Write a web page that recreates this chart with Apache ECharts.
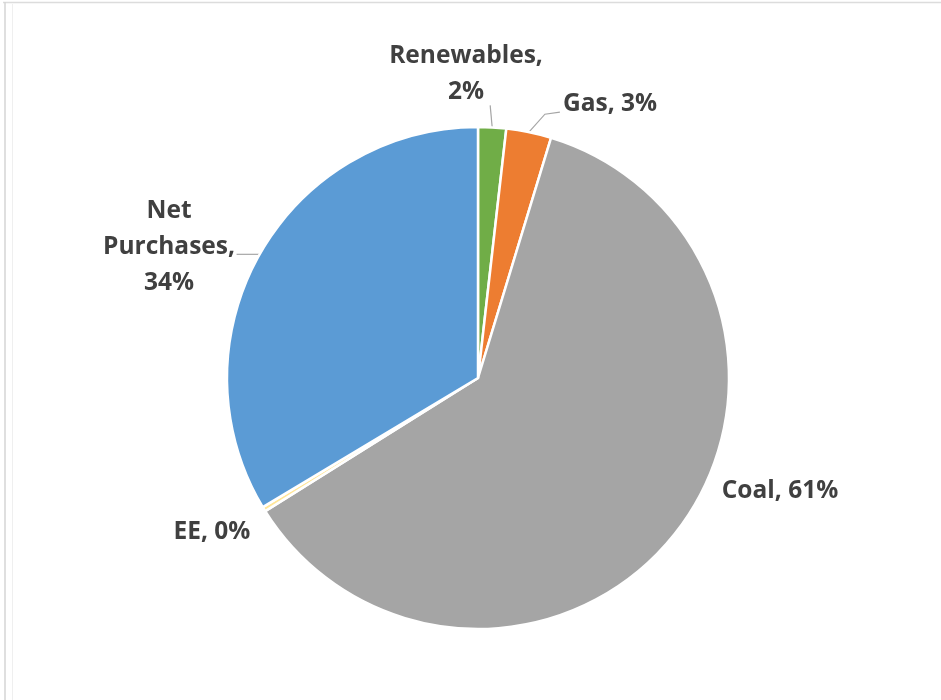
<!DOCTYPE html>
<html>
<head>
<meta charset="utf-8">
<script src="https://cdn.jsdelivr.net/npm/echarts@6/dist/echarts.min.js"></script>
<style>
  html, body { margin: 0; padding: 0; background: #ffffff; }
  #chart { width: 941px; height: 700px; }
</style>
</head>
<body>
<div id="chart"></div>
<script>
// Energy supply mix, clockwise from 12 o'clock
const categories = ['Renewables', 'Gas', 'Coal', 'EE', 'Net Purchases'];
const shares = [1.8, 2.9, 61.4, 0.3, 33.6];
const sliceColors = ['#70AD47', '#ED7D31', '#A5A5A5', '#FFE699', '#5B9BD5'];

// Where each data label sits (centre of text block) and how its leader line bends
const labelPlacement = {
  'Renewables':    { x: 466, y: 74,  line: 'up' },
  'Gas':           { x: 610, y: 104, line: 'elbow' },
  'Coal':          { x: 780, y: 491, line: 'none' },
  'EE':            { x: 212, y: 532, line: 'none' },
  'Net Purchases': { x: 169, y: 247, line: 'flat' }
};

const chart = echarts.init(document.getElementById('chart'), null, { renderer: 'canvas' });

const textColor = '#404040';

chart.setOption({
  backgroundColor: '#ffffff',
  animation: false,
  graphic: [
    { type: 'line', shape: { x1: 3, y1: 2.5, x2: 941, y2: 2.5 }, style: { stroke: '#dcdcdc', lineWidth: 1.5 } },
    { type: 'line', shape: { x1: 5, y1: 2, x2: 5, y2: 700 }, style: { stroke: '#d4d4d4', lineWidth: 1.5 } },
    { type: 'line', shape: { x1: 12.5, y1: 4, x2: 12.5, y2: 700 }, style: { stroke: '#efefef', lineWidth: 1 } }
  ],
  series: [{
    type: 'pie',
    center: [478, 378],
    radius: 251,
    startAngle: 90,
    clockwise: true,
    avoidLabelOverlap: false,
    itemStyle: { borderColor: '#ffffff', borderWidth: 2.5 },
    label: {
      show: true,
      position: 'outside',
      color: textColor,
      fontFamily: '"Open Sans", Lato, sans-serif',
      fontWeight: 'bold',
      fontSize: 24.5,
      lineHeight: 36,
      align: 'center',
      formatter: function (p) {
        const pct = Math.round(p.percent) + '%';
        if (p.name === 'Renewables') return 'Renewables,\n' + pct;
        if (p.name === 'Net Purchases') return 'Net\nPurchases,\n' + pct;
        return p.name + ', ' + pct;
      }
    },
    labelLine: {
      show: true,
      length: 10,
      length2: 10,
      lineStyle: { color: '#a6a6a6', width: 1.2 }
    },
    labelLayout: function (params) {
      const name = categories[params.dataIndex];
      const place = labelPlacement[name];
      const start = params.labelLinePoints ? params.labelLinePoints[0] : null;
      let pts;
      if (start) {
        if (place.line === 'up') {
          pts = [start, [start[0] - 1, start[1] - 11], [start[0] - 2, start[1] - 22]];
        } else if (place.line === 'elbow') {
          pts = [start, [start[0] + 16, start[1] - 18], [start[0] + 31, start[1] - 20]];
        } else if (place.line === 'flat') {
          pts = [start, [start[0] - 12, start[1]], [start[0] - 23, start[1]]];
        } else {
          pts = [start, start, start];
        }
      }
      return {
        x: place.x,
        y: place.y,
        align: 'center',
        verticalAlign: 'middle',
        labelLinePoints: pts
      };
    },
    data: categories.map((c, i) => ({
      name: c,
      value: shares[i],
      itemStyle: { color: sliceColors[i] }
    }))
  }]
});
</script>
</body>
</html>
